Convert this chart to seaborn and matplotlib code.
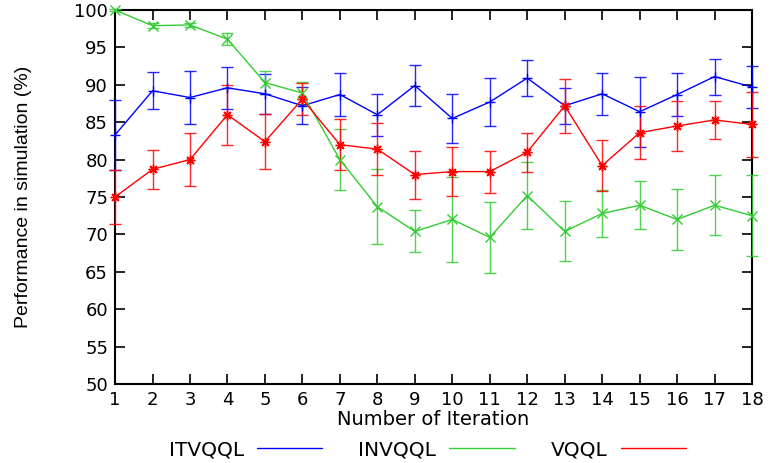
import numpy as np
import pandas as pd
import matplotlib
matplotlib.use("Agg")
import matplotlib.pyplot as plt
from matplotlib.lines import Line2D
import seaborn as sns

# iterations
iterations = list(range(1, 19))

# ITVQQL (blue)
itvqql = [83.3, 89.2, 88.3, 89.6, 88.8, 87.2, 88.7, 86.0, 89.9,
          85.5, 87.7, 90.9, 87.2, 88.8, 86.4, 88.7, 91.1, 89.7]
itvqql_err = [4.7, 2.5, 3.5, 2.8, 2.7, 2.5, 2.9, 2.8, 2.7,
              3.3, 3.2, 2.4, 2.4, 2.8, 4.7, 2.9, 2.4, 2.8]

# INVQQL (green)
invqql = [100.0, 97.9, 98.0, 96.1, 90.3, 88.9, 80.0, 73.7, 70.4,
          72.0, 69.6, 75.2, 70.4, 72.8, 73.9, 72.0, 73.9, 72.5]
invqql_err = [0.2, 0.3, 0.3, 0.8, 1.5, 1.5, 4.1, 5.0, 2.8,
              5.7, 4.7, 4.5, 4.0, 3.1, 3.2, 4.1, 4.0, 5.4]

# VQQL (red)
vqql = [75.0, 78.7, 80.0, 86.0, 82.4, 88.1, 82.0, 81.4, 78.0,
        78.4, 78.4, 81.0, 87.2, 79.2, 83.6, 84.5, 85.3, 84.7]
vqql_err = [3.6, 2.6, 3.5, 4.0, 3.7, 2.1, 3.4, 3.5, 3.2,
            3.3, 2.8, 2.6, 3.6, 3.4, 3.5, 3.4, 2.6, 4.4]

series_names = ["ITVQQL", "INVQQL", "VQQL"]
series_vals = [itvqql, invqql, vqql]
series_errs = [itvqql_err, invqql_err, vqql_err]
colors = ["#0000ff", "#33cc33", "#ff0000"]
markers = ["+", "x", (8, 2, 0)]

sns.set_style("ticks")
plt.rcParams["font.family"] = ["DejaVu Sans"]
plt.rcParams["text.color"] = "black"
plt.rcParams["axes.labelcolor"] = "black"

fig = plt.figure(figsize=(7.7, 4.63), dpi=100)
ax = fig.add_axes([0.1494, 0.1706, 0.8273, 0.8078])

for name, vals, errs, col, mk in zip(series_names, series_vals, series_errs, colors, markers):
    df = pd.DataFrame({"Iteration": iterations, "Perf": vals})
    ax.errorbar(iterations, vals, yerr=errs, fmt="none", ecolor=col,
                elinewidth=1.0, capsize=4, capthick=1.0, alpha=0.85,
                zorder=2, clip_on=False)
    sns.lineplot(data=df, x="Iteration", y="Perf", color=col, marker=mk,
                 markersize=7, markeredgewidth=1.0, markeredgecolor=col,
                 markerfacecolor=col, linewidth=1.0,
                 ax=ax, zorder=3, legend=False, clip_on=False)

ax.set_xlim(1, 18)
ax.set_ylim(50, 100)
ax.set_xticks(iterations)
ax.set_yticks(np.arange(50, 101, 5))
ax.tick_params(direction="in", length=7, width=1.2, labelsize=13,
               top=True, right=True, colors="black", pad=5)
for s in ax.spines.values():
    s.set_visible(True)
    s.set_color("black")
    s.set_linewidth(1.5)
    s.set_zorder(1)

ax.set_xlabel("Number of Iteration", fontsize=14, labelpad=1, color="black")
ax.set_ylabel("Performance in simulation (%)", fontsize=14, color="black",
              family=["Liberation Sans Narrow", "Liberation Sans", "DejaVu Sans"])
ax.yaxis.set_label_coords(-0.13, 0.5)

handles = [Line2D([], [], color=c, linewidth=1.0) for c in colors]
leg = fig.legend(handles, series_names, loc="center", bbox_to_anchor=(0.555, 0.028),
                 ncol=3, frameon=False, markerfirst=False, fontsize=14.5,
                 handlelength=3.24, columnspacing=1.8, handletextpad=0.65,
                 borderpad=0.0)
for t in leg.get_texts():
    t.set_color("black")

fig.savefig("out.png", dpi=100)
